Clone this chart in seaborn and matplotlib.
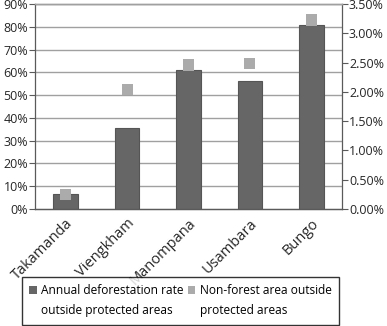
import matplotlib
matplotlib.use("Agg")
import matplotlib.pyplot as plt
import seaborn as sns
import numpy as np
import pandas as pd
from matplotlib.ticker import FuncFormatter, FixedLocator
from matplotlib.patches import Patch
from matplotlib.transforms import ScaledTranslation

sites = ["Takamanda", "Viengkham", "Manompana", "Usambara", "Bungo"]
deforestation_rate = [0.25, 1.38, 2.38, 2.18, 3.14]   # %, right axis (bars)
nonforest_area = [6.5, 52.3, 63.2, 63.9, 83.0]        # %, left axis (markers)
left_ticks = [0, 10, 20, 30, 40, 50, 60, 70, 80, 90]
right_ticks = [0.0, 0.5, 1.0, 1.5, 2.0, 2.5, 3.0, 3.5]
legend_lines_bar = ["Annual deforestation rate", "outside protected areas"]
legend_lines_marker = ["Non-forest area outside", "protected areas"]

df = pd.DataFrame({"site": sites, "rate": deforestation_rate, "nonforest": nonforest_area})

sns.set_style("white")
plt.rcParams["font.family"] = ["Open Sans", "DejaVu Sans"]
plt.rcParams["text.color"] = "black"

fig = plt.figure(figsize=(3.87, 3.26), dpi=100)
ax = fig.add_axes([35 / 387, 1 - 209 / 326, (342 - 35) / 387, (209 - 4) / 326])
ax2 = ax.twinx()

bar_color = "#666666"
mark_color = "#ababab"
grid_color = "#a0a0a0"
spine_color = "#5a5a5a"

sns.barplot(data=df, x="site", y="rate", ax=ax2, color=bar_color, width=0.4,
            edgecolor="#555555", linewidth=0.8, saturation=1, zorder=3)
sns.scatterplot(data=df, x="site", y="nonforest", ax=ax, marker="s", s=64,
                color=mark_color, edgecolor="none", zorder=4)

ax.set_zorder(2)
ax2.set_zorder(1)
ax.patch.set_visible(False)

ax.set_ylim(0, 90)
ax2.set_ylim(0, 3.5)
ax.set_xlim(-0.5, len(sites) - 0.5)

for t in left_ticks[1:]:
    ax2.axhline(t / 90 * 3.5, color=grid_color, lw=1.0, zorder=1)

ax.set_yticks(left_ticks)
ax.yaxis.set_major_formatter(FuncFormatter(lambda v, p: f"{v:.0f}%"))
ax2.set_yticks(right_ticks)
ax2.yaxis.set_major_formatter(FuncFormatter(lambda v, p: f"{v:.2f}%"))

ax.set_xticks(range(len(sites)))
ax.set_xticklabels(sites, rotation=45, ha="right", rotation_mode="anchor", fontsize=10.5)
shift = ScaledTranslation(4 / 100, 0, fig.dpi_scale_trans)
for lab in ax.get_xticklabels():
    lab.set_transform(lab.get_transform() + shift)
ax.tick_params(axis="x", which="major", length=0, pad=5)
ax.xaxis.set_minor_locator(FixedLocator(np.arange(-0.5, len(sites), 1.0)))
ax.tick_params(axis="x", which="minor", length=4, color=spine_color, direction="out", width=0.8)
ax.tick_params(axis="y", length=4, color=spine_color, width=0.8, labelsize=9, pad=1, direction="out")
ax2.tick_params(axis="y", length=4, color=spine_color, width=0.8, labelsize=9, pad=1, direction="out")
ax2.tick_params(axis="x", length=0)

for a in (ax, ax2):
    a.set_xlabel("")
    a.set_ylabel("")
    for s in ("left", "right", "bottom"):
        a.spines[s].set_color(spine_color)
        a.spines[s].set_linewidth(0.9)
    a.spines["top"].set_color(grid_color)
    a.spines["top"].set_linewidth(1.0)
ax.spines["right"].set_visible(False)
ax2.spines["left"].set_visible(False)

blank = Patch(facecolor="none", edgecolor="none")
handles = [Patch(facecolor=bar_color, edgecolor="none"), blank,
           Patch(facecolor=mark_color, edgecolor="none"), blank]
labels = legend_lines_bar + legend_lines_marker
leg = fig.legend(handles, labels, loc="upper left",
                 bbox_to_anchor=(22 / 387, 1 - 277 / 326),
                 ncol=2, fontsize=8.6, frameon=True, fancybox=False,
                 handlelength=0.6, handleheight=0.6, handletextpad=0.4,
                 borderpad=0.62, borderaxespad=0, columnspacing=0.35, labelspacing=0.58)
leg.get_frame().set_edgecolor("black")
leg.get_frame().set_linewidth(1.0)

fig.savefig("out.png", dpi=100)
